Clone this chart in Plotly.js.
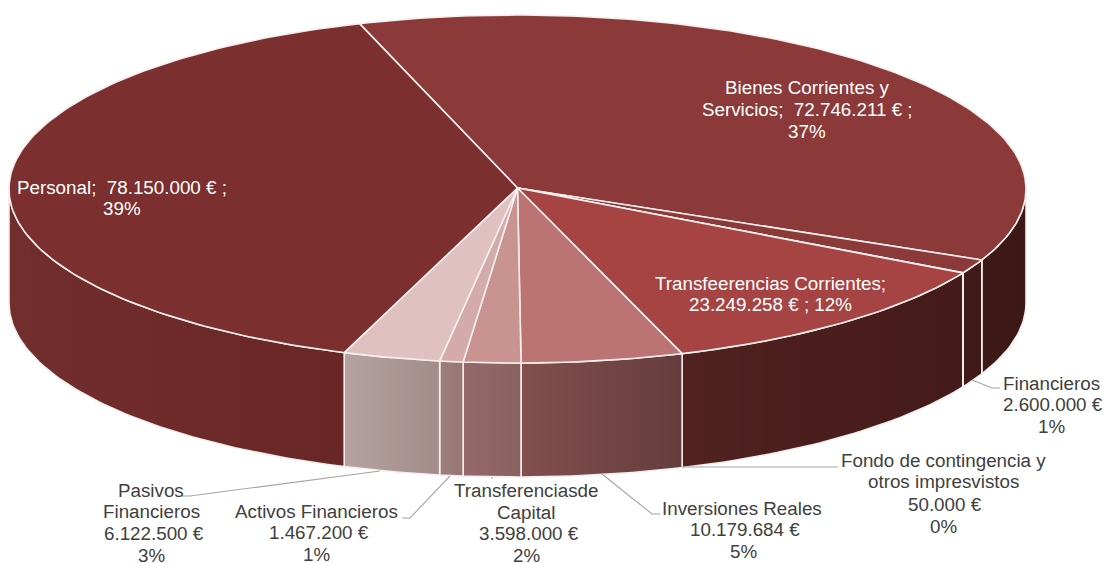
<!DOCTYPE html>
<html>
<head>
<meta charset="utf-8">
<script src="https://cdn.plot.ly/plotly-3.0.1.min.js"></script>
<style>html,body{margin:0;padding:0;background:#fff;overflow:hidden}#chart{width:1106px;height:563px}</style>
</head>
<body>
<div id="chart"></div>
<script>
const categories = ["Bienes Corrientes y Servicios","Financieros","Fondo de contingencia y otros impresvistos","Transfeerencias Corrientes","Inversiones Reales","Transferenciasde Capital","Activos Financieros","Pasivos Financieros","Personal"];
const values = [72746211,2600000,50000,23249258,10179684,3598000,1467200,6122500,78150000];
const topColors = ["#8c3a39","#8c3a39","#8c3a39","#a64443","#bc7472","#c9938f","#d3abaa","#dfc1c1","#7c2f2f"];
const sideLeft  = ["#3d1a17","#3f1a18","#3f1a18","#50211f","#824f4d","#95696a","#9c7e7a","#b5a2a1","#722e2c"];
const sideRight = ["#3b1816","#3f1a18","#3f1a18","#441b1a","#653d3d","#89625f","#967672","#a38c8a","#682624"];

const labelLines = [
  {t:"Bienes Corrientes y",x:807,y:87.5,c:"#ffffff"},{t:"Servicios;  72.746.211 € ;",x:807,y:109.5,c:"#ffffff"},{t:"37%",x:807,y:131.5,c:"#ffffff"},
  {t:"Personal;  78.150.000 € ;",x:122,y:187.5,c:"#ffffff"},{t:"39%",x:122,y:208.5,c:"#ffffff"},
  {t:"Transfeerencias Corrientes;",x:770,y:283.5,c:"#ffffff"},{t:"23.249.258 € ; 12%",x:770,y:304.5,c:"#ffffff"},
  {t:"Financieros",x:1051,y:383.5,c:"#404040"},{t:"2.600.000 €",x:1053,y:404.5,c:"#404040"},{t:"1%",x:1051,y:426.5,c:"#404040"},
  {t:"Fondo de contingencia y",x:943,y:460.5,c:"#404040"},{t:"otros impresvistos",x:943,y:481.5,c:"#404040"},{t:"50.000 €",x:945,y:504.5,c:"#404040"},{t:"0%",x:943,y:526.5,c:"#404040"},
  {t:"Inversiones Reales",x:742,y:508.5,c:"#404040"},{t:"10.179.684 €",x:745,y:529.5,c:"#404040"},{t:"5%",x:743,y:551.5,c:"#404040"},
  {t:"Transferenciasde",x:526,y:490.5,c:"#404040"},{t:"Capital",x:526,y:512.5,c:"#404040"},{t:"3.598.000 €",x:529,y:533.5,c:"#404040"},{t:"2%",x:526,y:555,c:"#404040"},
  {t:"Activos Financieros",x:316,y:511.5,c:"#404040"},{t:"1.467.200 €",x:319,y:532.5,c:"#404040"},{t:"1%",x:316,y:554,c:"#404040"},
  {t:"Pasivos",x:151,y:490.5,c:"#404040"},{t:"Financieros",x:151,y:511.5,c:"#404040"},{t:"6.122.500 €",x:154,y:533.5,c:"#404040"},{t:"3%",x:151,y:555,c:"#404040"}
];
const leaders = [
  [[972,380],[992,388],[1000,388]],
  [[682,467],[838,467]],
  [[602,474],[652,514],[660,514]],
  [[492,477],[492,479]],
  [[450,476],[410,518],[402,518]],
  [[380,471],[190,496],[182,496]]
];

const geom = {cx:517.5, cy:189, rx:508.5, ry:174, depth:114, start:-18.1, apexY:188};
const total = values.reduce((a,b)=>a+b,0);
const px = d => geom.cx + geom.rx*Math.sin(d*Math.PI/180);
const py = d => geom.cy - geom.ry*Math.cos(d*Math.PI/180);
function arc(a,b){const n=Math.max(2,Math.ceil(Math.abs(b-a)));const o=[];for(let i=0;i<=n;i++)o.push(a+(b-a)*i/n);return o;}

const spans=[];let acc=geom.start;
values.forEach(v=>{const s=acc;acc+=v/total*360;spans.push([s,acc]);});

const sideTraces=[],topTraces=[];
spans.forEach(([a,b],i)=>{
  const lo=Math.max(a,90),hi=Math.min(b,270);
  if(hi>lo){
    const f=arc(lo,hi),r=arc(hi,lo);
    sideTraces.push({type:"scatter",mode:"lines",name:categories[i]+" lado",
      x:f.map(px).concat(r.map(px)).concat([px(lo)]),
      y:f.map(py).concat(r.map(d=>py(d)+geom.depth)).concat([py(lo)]),
      fill:"toself",
      fillgradient:{type:"horizontal",colorscale:[[0,sideLeft[i]],[1,sideRight[i]]]},
      line:{color:"#f4efee",width:1.6},hoverinfo:"skip",showlegend:false});
  }
  const t=arc(a,b);
  topTraces.push({type:"scatter",mode:"lines",name:categories[i],
    x:[geom.cx].concat(t.map(px)).concat([geom.cx]),
    y:[geom.apexY].concat(t.map(py)).concat([geom.apexY]),
    fill:"toself",fillcolor:topColors[i],
    line:{color:"#f4efee",width:1.6},hoverinfo:"skip",showlegend:false});
});

const layout={
  width:1106,height:563,margin:{l:0,r:0,t:0,b:0},paper_bgcolor:"#fff",plot_bgcolor:"#fff",showlegend:false,
  xaxis:{range:[0,1106],visible:false,fixedrange:true},
  yaxis:{range:[563,0],visible:false,fixedrange:true},
  font:{family:"Liberation Sans, Arial, sans-serif"},
  shapes:leaders.map(p=>({type:"path",xref:"x",yref:"y",layer:"above",
    path:p.map((q,i)=>(i?"L":"M")+q[0]+","+q[1]).join(" "),line:{color:"#a6a6a6",width:1.1}})),
  annotations:labelLines.map(l=>({x:l.x,y:l.y,xref:"x",yref:"y",text:l.t,showarrow:false,xanchor:"center",yanchor:"middle",
    font:{size:18.8,color:l.c,family:"Liberation Sans, Arial, sans-serif"}}))
};
Plotly.newPlot("chart",sideTraces.concat(topTraces),layout,{displayModeBar:false,staticPlot:true});
</script>
</body>
</html>
